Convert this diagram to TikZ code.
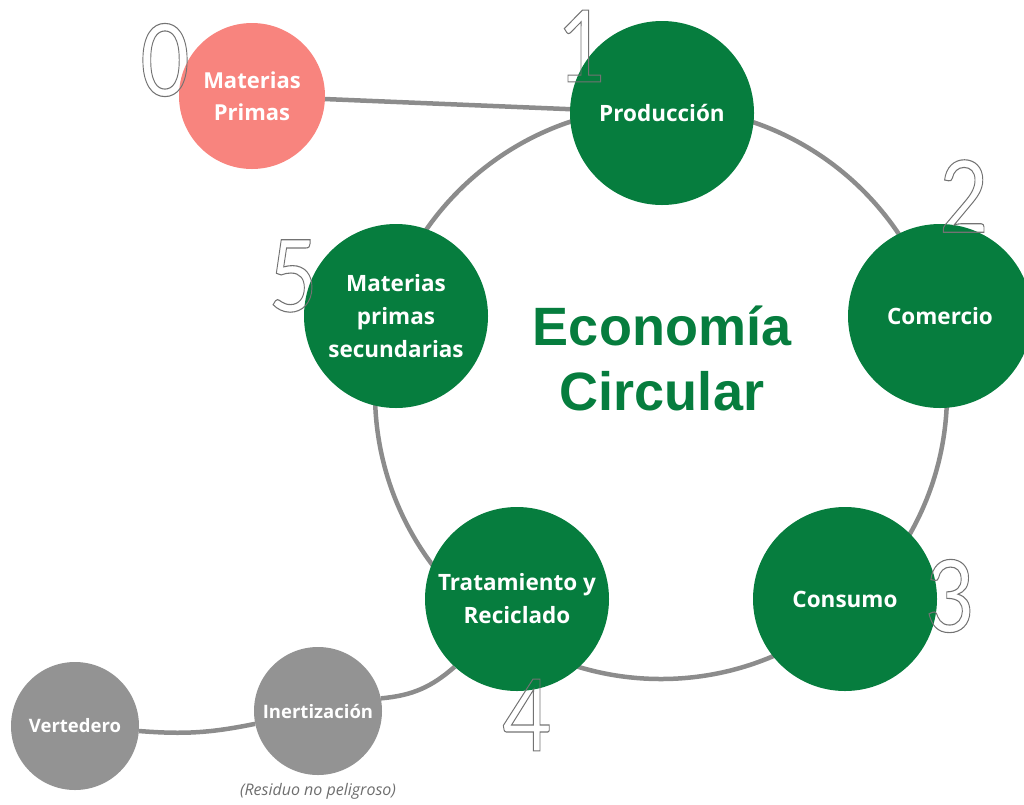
\documentclass[tikz,border=0pt]{standalone}
\usepackage{fontspec}
\setmainfont{Open Sans}
\newfontfamily\titlefont{Liberation Sans}
\newfontfamily\digitfont{Lato}
\usetikzlibrary{backgrounds}

\definecolor{ecogreen}{RGB}{6,125,62}
\definecolor{rawpink}{RGB}{248,132,126}
\definecolor{wastegray}{RGB}{147,147,147}
\definecolor{linegray}{RGB}{140,140,140}
\definecolor{numgray}{RGB}{110,110,110}

% hollow (stroked only) digits
\newcommand{\hollowdigit}[1]{%
  \special{pdf:literal direct 1 Tr 1.1 w 0.45 G}#1\special{pdf:literal direct 0 Tr}}

\tikzset{
  stage/.style={circle, fill=ecogreen, minimum size=184pt, inner sep=0pt,
    text=white, align=center, font=\bfseries\fontsize{22.5}{33}\selectfont},
  rawnode/.style={circle, fill=rawpink, minimum size=146pt, inner sep=0pt,
    text=white, align=center, font=\bfseries\fontsize{22}{32}\selectfont},
  wastenode/.style={circle, fill=wastegray, minimum size=128pt, inner sep=0pt,
    text=white, align=center, font=\bfseries\fontsize{18.5}{24}\selectfont},
  link/.style={draw=linegray, line width=4.5pt},
  stagenum/.style={inner sep=0pt, text=numgray,
    font=\digitfont\fontsize{100}{100}\selectfont},
}

\begin{document}
\begin{tikzpicture}[x=1pt,y=-1pt]
  \useasboundingbox (0,0) rectangle (1024,804);

  % stages of the cycle
  \node[stage]     (prod)  at (662,113) {Producción};
  \node[stage]     (com)   at (940,316) {Comercio};
  \node[stage]     (cons)  at (845,599) {Consumo};
  \node[stage]     (trat)  at (517,599) {Tratamiento y\\Reciclado};
  \node[stage]     (mps)   at (396,316) {Materias\\primas\\secundarias};
  \node[rawnode]   (raw)   at (252,96)  {Materias\\Primas};
  \node[wastenode] (inert) at (318,711) {Inertización};
  \node[wastenode] (vert)  at (75,726)  {Vertedero};

  % centre title
  \node[text=ecogreen, align=center, font=\titlefont\bfseries\fontsize{54}{65}\selectfont]
    (title) at (662,358) {Economía\\Circular};

  % note under the inertisation step
  \node[text=numgray, font=\itshape\fontsize{16}{18}\selectfont]
    (note) at (318,791) {(Residuo no peligroso)};

  % connectors behind the circles
  \begin{scope}[on background layer]
    \coordinate (ringc) at (661,393);
    \draw[link] (ringc) circle[radius=286];
    \draw[link] (raw) -- (prod);
    \draw[link] (inert) to[bend right=18] (trat);
    \draw[link] (vert) to[bend right=8] (inert);
  \end{scope}

  % stage numbers
  \node[stagenum] (n0) at (165,60)  {\scalebox{0.85}[1]{\hollowdigit{0}}};
  \node[stagenum] (n1) at (582,46)  {\scalebox{0.85}[1]{\hollowdigit{1}}};
  \node[stagenum] (n2) at (964,196) {\scalebox{0.85}[1]{\hollowdigit{2}}};
  \node[stagenum] (n3) at (950,596) {\scalebox{0.85}[1]{\hollowdigit{3}}};
  \node[stagenum] (n4) at (527,715) {\scalebox{0.85}[1]{\hollowdigit{4}}};
  \node[stagenum] (n5) at (293,276) {\scalebox{0.85}[1]{\hollowdigit{5}}};
\end{tikzpicture}
\end{document}
